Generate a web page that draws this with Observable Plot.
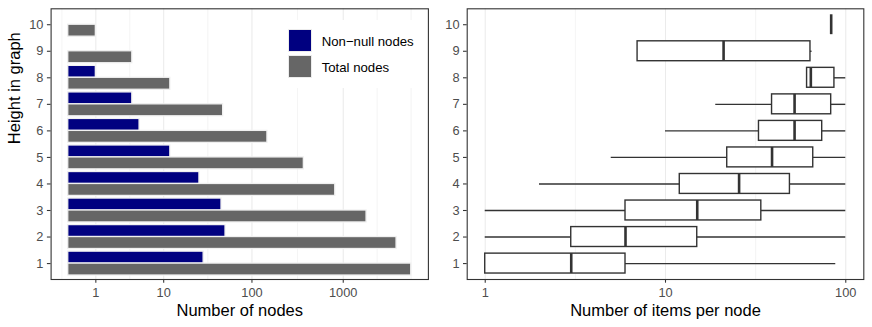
<!DOCTYPE html>
<html>
<head>
<meta charset="utf-8">
<script src="https://cdn.jsdelivr.net/npm/d3@7"></script>
<script src="https://cdn.jsdelivr.net/npm/@observablehq/plot@0.6"></script>
<style>
  html, body { margin: 0; padding: 0; background: white; }
  #wrap { position: relative; width: 872px; height: 327px; font-family: "Liberation Sans", Arial, sans-serif; }
  #left, #right { position: absolute; top: 0; }
  #left { left: 0; }
  #right { left: 436px; }
  #legend { position: absolute; left: 280px; top: 20px; width: 141px; height: 68px; background: white; }
  .key { position: absolute; left: 8.3px; width: 23.4px; height: 23.3px; box-sizing: border-box; border: 1px solid #ececec; }
  .lab { position: absolute; left: 41.7px; font-size: 13.2px; color: black; line-height: 1; white-space: nowrap; }
</style>
</head>
<body>
<div id="wrap">
  <div id="left"></div>
  <div id="right"></div>
  <div id="legend"></div>
</div>
<script>
// ---- Data ----
const heights = [1, 2, 3, 4, 5, 6, 7, 8, 9, 10];
const nonNullNodes = [29, 51, 46, 26, 12, 5, 4, 1, 0, 0];
const totalNodes = [5526, 3819, 1797, 818, 371, 148, 48, 12, 4, 1];
const seriesNames = ["Non\u2212null nodes", "Total nodes"];
const seriesColors = ["#000080", "#666666"];
const xTicksLeft = [1, 10, 100, 1000];

const boxMin = [1, 1, 1, 2, 5, 10, 19, 61, 7, 83];
const boxQ1 = [1, 3, 6, 12, 22, 33, 39, 61, 7, 83];
const boxMedian = [3, 6, 15, 25.6, 39, 52, 52, 64, 21, 83];
const boxQ3 = [6, 15, 34, 49, 66, 74, 83, 86.5, 63.7, 83];
const boxMax = [88, 100, 100, 100, 100, 100, 100, 100, 65, 83];
const xTicksRight = [1, 10, 100];

const yLabel = "Height in graph";
const xLabelLeft = "Number of nodes";
const xLabelRight = "Number of items per node";

// ---- Derived tables ----
const bars = heights.flatMap((h, i) => [
  {h, series: seriesNames[0], value: nonNullNodes[i], pos: 0},
  {h, series: seriesNames[1], value: totalNodes[i], pos: 1}
]);
const boxes = heights.map((h, i) => ({h, min: boxMin[i], q1: boxQ1[i], med: boxMedian[i], q3: boxQ3[i], max: boxMax[i]}));

// ggplot-like expansion and minor breaks in transformed space
const log1p10 = v => Math.sign(v) * Math.log10(1 + Math.abs(v));
const inv1p10 = t => Math.sign(t) * (Math.pow(10, Math.abs(t)) - 1);
function minorBreaks(majors, f, finv, lo, hi) {
  const t = majors.map(f);
  const bd = t[1] - t[0];
  const ext = [t[0] - bd, ...t, t[t.length - 1] + bd];
  const out = [];
  for (let i = 0; i < ext.length - 1; i++) out.push((ext[i] + ext[i + 1]) / 2);
  out.push(ext[0], ext[ext.length - 1]);
  return out.filter(v => v >= f(lo) && v <= f(hi) && !t.some(m => Math.abs(m - v) < 1e-9)).map(finv);
}

const tMaxL = log1p10(d3.max(totalNodes));
const padL = 0.05 * tMaxL;
const domL = [inv1p10(-padL), inv1p10(tMaxL + padL)];
const minorL = minorBreaks(xTicksLeft, log1p10, inv1p10, domL[0], domL[1]);

const lMin = Math.log10(d3.min(boxMin)), lMax = Math.log10(d3.max(boxMax));
const padR = 0.05 * (lMax - lMin);
const domR = [Math.pow(10, lMin - padR), Math.pow(10, lMax + padR)];
const minorR = minorBreaks(xTicksRight, Math.log10, t => Math.pow(10, t), domR[0], domR[1]);

const yDomain = [heights[0] - 0.6, heights[heights.length - 1] + 0.6];

const font = '"Liberation Sans", Arial, sans-serif';
const tickFont = 12.8;
const common = {
  width: 436, height: 327, marginTop: 8.3, marginBottom: 48,
  style: {fontFamily: font, fontSize: tickFont + "px", background: "white", overflow: "visible"},
  y: {domain: yDomain}
};
const axisStyle = {tickSize: 3.7, fontSize: tickFont, fill: "#4d4d4d", stroke: "#333333", strokeWidth: 1.07};

// ---- Left panel ----
const left = Plot.plot({
  ...common,
  marginLeft: 50.6, marginRight: 8.1,
  x: {type: "symlog", constant: 1, domain: domL},
  color: {domain: seriesNames, range: seriesColors},
  marks: [
    Plot.ruleX(minorL, {stroke: "#ebebeb", strokeWidth: 0.53}),
    Plot.ruleX(xTicksLeft, {stroke: "#ebebeb", strokeWidth: 1.07}),
    Plot.rectX(bars, {
      x1: 0, x2: "value",
      y1: d => d.pos === 0 ? d.h : d.h - 0.45,
      y2: d => d.pos === 0 ? d.h + 0.45 : d.h,
      fill: "series", stroke: "#f0f0f0", strokeWidth: 1.3
    }),
    Plot.axisX({...axisStyle, ticks: xTicksLeft, tickFormat: d => String(d), tickPadding: 5.2, label: null}),
    Plot.axisY({...axisStyle, ticks: heights, tickFormat: d => String(d), tickPadding: 4.0, label: null}),
    Plot.text([xLabelLeft], {text: d => d, frameAnchor: "bottom", lineAnchor: "bottom", dy: 36.3, fontSize: 16.5, fill: "black"}),
    Plot.text([yLabel], {text: d => d, frameAnchor: "left", rotate: -90, lineAnchor: "bottom", dx: -31, fontSize: 16.5, fill: "black"}),
    Plot.frame({stroke: "#333333", strokeWidth: 1.1})
  ]
});
document.getElementById("left").appendChild(left);

// ---- Right panel ----
const right = Plot.plot({
  ...common,
  marginLeft: 30.7, marginRight: 8.7,
  x: {type: "log", domain: domR},
  marks: [
    Plot.ruleX(minorR, {stroke: "#ebebeb", strokeWidth: 0.53}),
    Plot.ruleX(xTicksRight, {stroke: "#ebebeb", strokeWidth: 1.07}),
    Plot.ruleY(boxes, {y: "h", x1: "min", x2: "q1", stroke: "#333333", strokeWidth: 1.4}),
    Plot.ruleY(boxes, {y: "h", x1: "q3", x2: "max", stroke: "#333333", strokeWidth: 1.4}),
    Plot.rectX(boxes, {x1: "q1", x2: "q3", y1: d => d.h - 0.375, y2: d => d.h + 0.375, fill: "white", stroke: "#333333", strokeWidth: 1.4}),
    Plot.ruleX(boxes, {x: "med", y1: d => d.h - 0.375, y2: d => d.h + 0.375, stroke: "#333333", strokeWidth: 2.6}),
    Plot.axisX({...axisStyle, ticks: xTicksRight, tickFormat: d => String(d), tickPadding: 5.2, label: null}),
    Plot.axisY({...axisStyle, ticks: heights, tickFormat: d => String(d), tickPadding: 4.0, label: null}),
    Plot.text([xLabelRight], {text: d => d, frameAnchor: "bottom", lineAnchor: "bottom", dy: 36.3, fontSize: 16.5, fill: "black"}),
    Plot.frame({stroke: "#333333", strokeWidth: 1.1})
  ]
});
document.getElementById("right").appendChild(right);

// ---- Legend ----
const legend = document.getElementById("legend");
seriesNames.forEach((name, i) => {
  const top = 9 + i * 26;
  const k = document.createElement("div");
  k.className = "key";
  k.style.top = top + "px";
  k.style.background = seriesColors[i];
  legend.appendChild(k);
  const l = document.createElement("div");
  l.className = "lab";
  l.style.top = (top + 5.5) + "px";
  l.textContent = name;
  legend.appendChild(l);
});
</script>
</body>
</html>
